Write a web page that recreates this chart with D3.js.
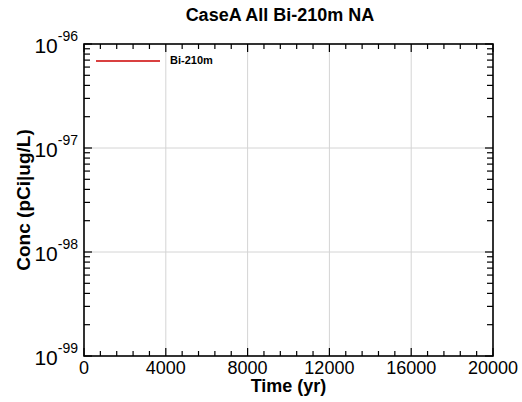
<!DOCTYPE html>
<html>
<head>
<meta charset="utf-8">
<script src="https://cdn.jsdelivr.net/npm/d3@7"></script>
<style>
  html, body { margin: 0; padding: 0; background: #fff; }
  svg { display: block; font-family: "Liberation Sans", Arial, sans-serif; }
</style>
</head>
<body>
<svg id="chart" width="522" height="402"></svg>
<script>
// Series: Bi-210m concentration over time (no non-zero values in this case)
const seriesName = "Bi-210m";
const timeYr = [0, 4000, 8000, 12000, 16000, 20000];
const concBi210m = [0, 0, 0, 0, 0, 0];

// Axis ticks
const xMajorTicks = [0, 4000, 8000, 12000, 16000, 20000];
const yDecadeExponents = [-99, -98, -97, -96];

const titleText = "CaseA All Bi-210m NA";
const xLabelText = "Time (yr)";
const yLabelText = "Conc (pCi|ug/L)";

const svg = d3.select("#chart");
const plotL = 84, plotR = 493, plotT = 44, plotB = 356;

const x = d3.scaleLinear().domain([0, 20000]).range([plotL, plotR]);
const y = d3.scaleLog().domain([1e-99, 1e-96]).range([plotB, plotT]);

// minor ticks
const xMinor = d3.range(0, 20001, 800).filter(v => !xMajorTicks.includes(v));
const yMajor = yDecadeExponents.map(e => Math.pow(10, e));
const yMinor = [];
yDecadeExponents.slice(0, -1).forEach(e => {
  for (let k = 2; k <= 9; k++) yMinor.push(k * Math.pow(10, e));
});

// grid
const grid = svg.append("g").attr("stroke", "#d4d4d4").attr("stroke-width", 1);
xMajorTicks.slice(1, -1).forEach(v => {
  grid.append("line").attr("x1", x(v)).attr("x2", x(v)).attr("y1", plotT).attr("y2", plotB);
});
yMajor.slice(1, -1).forEach(v => {
  grid.append("line").attr("x1", plotL).attr("x2", plotR).attr("y1", y(v)).attr("y2", y(v));
});

// data line (zero values are not drawable on a log axis)
const line = d3.line()
  .defined(d => d[1] > 0)
  .x(d => x(d[0])).y(d => y(d[1]));
svg.append("path")
  .datum(timeYr.map((t, i) => [t, concBi210m[i]]))
  .attr("fill", "none").attr("stroke", "#cc0000").attr("stroke-width", 1.5)
  .attr("d", line);

// ticks (inward on all four sides)
const ticks = svg.append("g").attr("stroke", "#000").attr("stroke-width", 1.2);
function xTick(v, len) {
  ticks.append("line").attr("x1", x(v)).attr("x2", x(v)).attr("y1", plotB).attr("y2", plotB - len);
  ticks.append("line").attr("x1", x(v)).attr("x2", x(v)).attr("y1", plotT).attr("y2", plotT + len);
}
function yTick(v, len) {
  ticks.append("line").attr("x1", plotL).attr("x2", plotL + len).attr("y1", y(v)).attr("y2", y(v));
  ticks.append("line").attr("x1", plotR).attr("x2", plotR - len).attr("y1", y(v)).attr("y2", y(v));
}
xMajorTicks.forEach(v => xTick(v, 8));
xMinor.forEach(v => xTick(v, 5));
yMajor.forEach(v => yTick(v, 8));
yMinor.forEach(v => yTick(v, 6));

// frame
svg.append("rect")
  .attr("x", plotL).attr("y", plotT).attr("width", plotR - plotL).attr("height", plotB - plotT)
  .attr("fill", "none").attr("stroke", "#000").attr("stroke-width", 1.6);

// x tick labels
svg.append("g").selectAll("text").data(xMajorTicks).join("text")
  .attr("x", d => x(d)).attr("y", 374)
  .attr("text-anchor", "middle").attr("font-size", 18).attr("fill", "#000")
  .text(d => d);

// y tick labels: 10 with superscript exponent
yDecadeExponents.forEach(e => {
  const t = svg.append("text")
    .attr("x", 78).attr("y", y(Math.pow(10, e)) + 9)
    .attr("text-anchor", "end").attr("fill", "#000");
  t.append("tspan").attr("font-size", 21).text("10");
  t.append("tspan").attr("font-size", 14).attr("dy", -12).text(e);
});

// title and axis labels
svg.append("text").attr("x", 280).attr("y", 21).attr("text-anchor", "middle")
  .attr("font-size", 18).attr("font-weight", "bold").text(titleText);
svg.append("text").attr("x", (plotL + plotR) / 2).attr("y", 392).attr("text-anchor", "middle")
  .attr("font-size", 18).attr("font-weight", "bold").text(xLabelText);
svg.append("text").attr("transform", `translate(30,${(plotT + plotB) / 2}) rotate(-90)`)
  .attr("text-anchor", "middle").attr("font-size", 19).attr("font-weight", "bold").text(yLabelText);

// legend
svg.append("line").attr("x1", 96).attr("x2", 160).attr("y1", 61).attr("y2", 61)
  .attr("stroke", "#cc0000").attr("stroke-width", 1.5);
svg.append("text").attr("x", 170).attr("y", 64).attr("font-size", 11)
  .attr("font-weight", "bold").text(seriesName);
</script>
</body>
</html>
